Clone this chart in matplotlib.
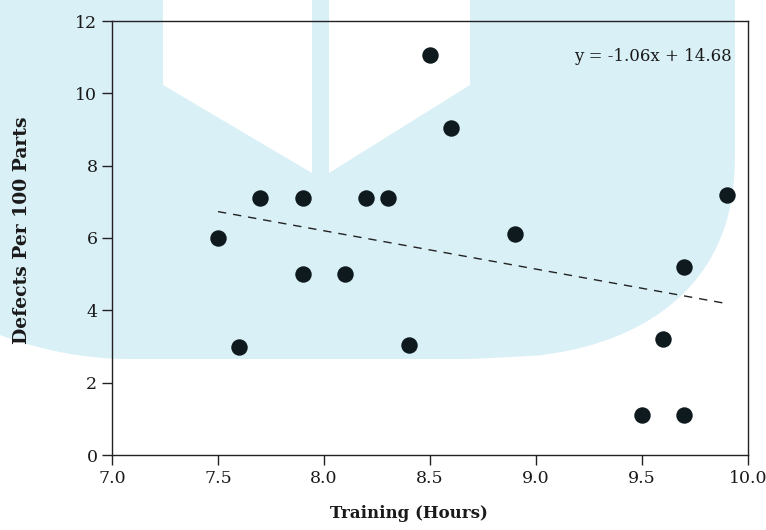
import numpy as np
import matplotlib
matplotlib.use("Agg")
import matplotlib.pyplot as plt
from matplotlib.patches import Polygon

# data
training = [7.5, 7.6, 7.7, 7.9, 7.9, 8.1, 8.2, 8.3, 8.4, 8.5, 8.6, 8.9, 9.5, 9.6, 9.7, 9.7, 9.9]
defects = [6.0, 3.0, 7.1, 7.1, 5.0, 5.0, 7.1, 7.1, 3.05, 11.05, 9.05, 6.1, 1.1, 3.2, 5.2, 1.1, 7.2]
slope, intercept = -1.06, 14.68
x_ticks = [7.0, 7.5, 8.0, 8.5, 9.0, 9.5, 10.0]
y_ticks = [0, 2, 4, 6, 8, 10, 12]

plt.rcParams['font.family'] = ['DejaVu Serif']

W, H = 766, 530
fig = plt.figure(figsize=(W / 100, H / 100), dpi=100)


def px(pts):
    # pixel coords (y down) -> figure fraction
    return [(x / W, 1 - y / H) for x, y in pts]


# light blue watermark behind the chart
blue = '#d9f0f6'
t = np.linspace(0, 1, 60)
p = 2.4
corner = [(470 + 265 * (1 - tt ** p) ** (1 / p), 150 + 209 * tt) for tt in t]
left = [(130 * s, 359 - 24 * (1 - s) ** 2) for s in t][::-1]
shape = [(0, 0), (735, 0)] + corner + left + [(0, 0)]
fig.patches.append(Polygon(px(shape), closed=True, transform=fig.transFigure,
                           facecolor=blue, edgecolor='none', zorder=-2))
white_l = [(163, 0), (312, 0), (312, 173), (163, 85)]
white_r = [(329, 0), (470, 0), (470, 85), (329, 173)]
for pts in (white_l, white_r):
    fig.patches.append(Polygon(px(pts), closed=True, transform=fig.transFigure,
                               facecolor='white', edgecolor='none', zorder=-1))

ax = fig.add_axes([112 / W, 1 - 455 / H, (748 - 112) / W, (455 - 21) / H])
ax.patch.set_alpha(0)

ax.scatter(training, defects, s=140, color='#0e1a1e', zorder=3, linewidths=0)

xs = np.array([min(training), max(training)])
ax.plot(xs, slope * xs + intercept, color='#222222', lw=1, dashes=(6, 5))

ax.text(0.975, 0.919, 'y = -1.06x + 14.68', transform=ax.transAxes,
        ha='right', va='center', fontsize=12, color='#1a1a1a')

ax.set_xlim(7.0, 10.0)
ax.set_ylim(0, 12)
ax.set_xticks(x_ticks)
ax.set_xticklabels(['{:.1f}'.format(v) for v in x_ticks])
ax.set_yticks(y_ticks)
ax.tick_params(labelsize=12.5, length=7, width=1, color='#222222', labelcolor='#1a1a1a')

for s in ax.spines.values():
    s.set_color('#222222')
    s.set_linewidth(1)

fig.text(409 / W, 1 - 513 / H, 'Training (Hours)', fontsize=12, fontweight='bold',
         ha='center', va='center', color='#1a1a1a')
fig.text(22 / W, 1 - 230 / H, 'Defects Per 100 Parts', fontsize=13.5, fontweight='bold',
         rotation=90, ha='center', va='center', color='#1a1a1a')

fig.savefig('out.png', dpi=100)
